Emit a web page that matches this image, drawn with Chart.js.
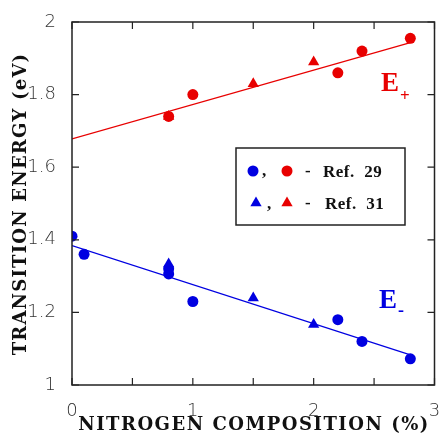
<!DOCTYPE html>
<html>
<head>
<meta charset="utf-8">
<script src="https://cdn.jsdelivr.net/npm/chart.js@4.4.1/dist/chart.umd.min.js"></script>
<style>
  html, body { margin: 0; padding: 0; background: #fff; }
  #wrap { width: 441px; height: 439px; }
</style>
</head>
<body>
<div id="wrap"><canvas id="chart" width="441" height="439"></canvas></div>
<script>
// E+ (red) data
const redCircleX = [0.8, 1.0, 2.2, 2.4, 2.8];
const redCircleY = [1.74, 1.80, 1.86, 1.92, 1.955];
const redTriX = [0.8, 1.5, 2.0];
const redTriY = [1.74, 1.83, 1.89];
// E- (blue) data
const blueCircleX = [0, 0.1, 0.8, 0.8, 1.0, 2.2, 2.4, 2.8];
const blueCircleY = [1.41, 1.36, 1.306, 1.32, 1.23, 1.18, 1.12, 1.072];
const blueTriX = [0.8, 1.5, 2.0];
const blueTriY = [1.333, 1.24, 1.167];
// linear fits
const fitX = [0, 2.8];
const redFitY = [1.678, 1.943];
const blueFitY = [1.384, 1.083];

const xTicks = [0, 0.5, 1, 1.5, 2, 2.5, 3];
const yTicks = [1, 1.2, 1.4, 1.6, 1.8, 2];

const RED = 'rgb(232,0,0)';
const BLUE = 'rgb(0,0,225)';

function pts(xs, ys) {
  return xs.map((x, i) => ({ x: x, y: ys[i] }));
}

const frame = {
  id: 'frame',
  afterDraw(chart) {
    const ctx = chart.ctx;
    const a = chart.chartArea;
    const xs = chart.scales.x, ys = chart.scales.y;
    ctx.save();
    ctx.strokeStyle = '#222';
    ctx.lineWidth = 1.5;
    ctx.strokeRect(a.left, a.top, a.right - a.left, a.bottom - a.top);
    // inward ticks
    ctx.lineWidth = 1.2;
    ctx.beginPath();
    xTicks.forEach(v => {
      const px = xs.getPixelForValue(v);
      ctx.moveTo(px, a.bottom); ctx.lineTo(px, a.bottom - 7);
      ctx.moveTo(px, a.top); ctx.lineTo(px, a.top + 7);
    });
    yTicks.forEach(v => {
      const py = ys.getPixelForValue(v);
      ctx.moveTo(a.left, py); ctx.lineTo(a.left + 7, py);
      ctx.moveTo(a.right, py); ctx.lineTo(a.right - 7, py);
    });
    ctx.stroke();

    // axis titles
    ctx.fillStyle = '#111';
    ctx.font = 'bold 18px "DejaVu Serif"';
    ctx.letterSpacing = '1.5px';
    ctx.textAlign = 'center';
    ctx.textBaseline = 'middle';
    ctx.fillText('NITROGEN COMPOSITION (%)', 254, 425);
    ctx.save();
    ctx.translate(21, 204);
    ctx.rotate(-Math.PI / 2);
    ctx.letterSpacing = '1.2px';
    ctx.fillText('TRANSITION ENERGY (eV)', 0, 0);
    ctx.restore();
    ctx.letterSpacing = '0px';

    // curve labels
    ctx.textAlign = 'left';
    ctx.textBaseline = 'alphabetic';
    ctx.font = 'bold 27px "Liberation Serif"';
    ctx.fillStyle = RED;
    ctx.fillText('E', 381, 91);
    ctx.font = 'bold 17px "Liberation Serif"';
    ctx.fillText('+', 400, 101);
    ctx.font = 'bold 27px "Liberation Serif"';
    ctx.fillStyle = BLUE;
    ctx.fillText('E', 379, 308);
    ctx.font = 'bold 18px "Liberation Serif"';
    ctx.fillText('-', 398, 316);

    // legend box
    ctx.strokeStyle = '#222';
    ctx.lineWidth = 1.5;
    ctx.strokeRect(236, 148, 169, 77);
    const drawMark = (style, x, y) => {
      Chart.helpers.drawPoint(ctx, { pointStyle: style, radius: style === 'circle' ? 5.5 : 6.5, rotation: 0, borderWidth: 0 }, x, y);
    };
    ctx.fillStyle = BLUE; ctx.strokeStyle = BLUE;
    drawMark('circle', 253, 171);
    drawMark('triangle', 256, 203);
    ctx.fillStyle = RED; ctx.strokeStyle = RED;
    drawMark('circle', 287, 171);
    drawMark('triangle', 287, 203);
    ctx.fillStyle = '#111';
    ctx.font = 'bold 17px "Liberation Serif"';
    ctx.fillText(',', 262, 176);
    ctx.fillText(',', 267, 209);
    ctx.fillText('-', 305, 176);
    ctx.fillText('-', 305, 208);
    ctx.letterSpacing = '0.5px';
    ctx.fillText('Ref.  29', 323, 177);
    ctx.fillText('Ref.  31', 325, 209);
    ctx.restore();
  }
};

const scatterBase = { showLine: false, borderWidth: 0 };

new Chart(document.getElementById('chart'), {
  type: 'scatter',
  data: {
    datasets: [
      { ...scatterBase, data: pts(redCircleX, redCircleY), pointStyle: 'circle', pointRadius: 5.5, backgroundColor: RED, borderColor: RED },
      { ...scatterBase, data: pts(redTriX, redTriY), pointStyle: 'triangle', pointRadius: 6.5, backgroundColor: RED, borderColor: RED },
      { ...scatterBase, data: pts(blueCircleX, blueCircleY), pointStyle: 'circle', pointRadius: 5.5, backgroundColor: BLUE, borderColor: BLUE },
      { ...scatterBase, data: pts(blueTriX, blueTriY), pointStyle: 'triangle', pointRadius: 6.5, backgroundColor: BLUE, borderColor: BLUE },
      { data: pts(fitX, redFitY), showLine: true, pointRadius: 0, borderColor: RED, borderWidth: 1.2 },
      { data: pts(fitX, blueFitY), showLine: true, pointRadius: 0, borderColor: BLUE, borderWidth: 1.2 }
    ]
  },
  options: {
    responsive: false,
    animation: false,
    layout: { padding: { top: 22, right: 4, left: 0, bottom: 0 } },
    plugins: { legend: { display: false }, tooltip: { enabled: false } },
    scales: {
      x: {
        type: 'linear', min: 0, max: 3,
        afterFit: s => { s.height = 54; s.paddingRight = 0; s.paddingLeft = 0; },
        afterBuildTicks: s => { s.ticks = xTicks.map(v => ({ value: v })); },
        grid: { display: false },
        border: { display: false },
        ticks: {
          padding: 8,
          color: '#333',
          font: { family: 'DejaVu Sans', size: 18, weight: 200 },
          maxRotation: 0,
          callback: v => Number.isInteger(v) ? String(v) : ''
        }
      },
      y: {
        type: 'linear', min: 1, max: 2,
        afterFit: s => { s.width = 72; s.paddingTop = 0; s.paddingBottom = 0; },
        afterBuildTicks: s => { s.ticks = yTicks.map(v => ({ value: v })); },
        grid: { display: false },
        border: { display: false },
        ticks: {
          padding: 8,
          color: '#333',
          font: { family: 'DejaVu Sans', size: 18, weight: 200 },
          callback: v => (v === 1 || v === 2) ? String(v) : v.toFixed(1)
        }
      }
    }
  },
  plugins: [frame]
});
</script>
</body>
</html>
